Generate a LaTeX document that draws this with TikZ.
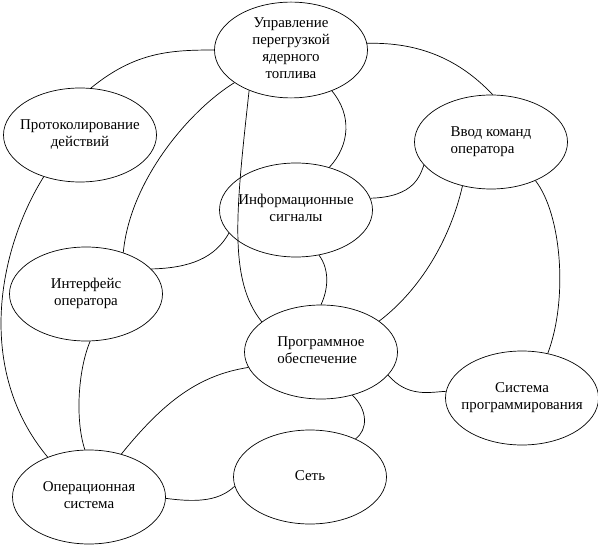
\documentclass[tikz,border=0pt]{standalone}
\usepackage{fontspec}
\setmainfont{Liberation Serif}
\usetikzlibrary{shapes.geometric}
\newcommand{\lbl}[1]{\makebox[0pt]{\begin{tabular}{@{}c@{}}#1\end{tabular}}}
\newcommand{\lbll}[1]{\makebox[0pt]{\begin{tabular}{@{}l@{}}#1\end{tabular}}}

\begin{document}
\begin{tikzpicture}[x=1bp,y=-1bp,
	blob/.style={ellipse,draw,line width=0.7pt,minimum width=153bp,minimum height=94bp,inner sep=0pt,font=\fontsize{15}{17}\selectfont},
	link/.style={line width=0.7pt}]
					\useasboundingbox (0,0) rectangle (598,545);
					%NODES
					\node[blob,minimum height=90bp] (ctrl) at (291,50) {\lbl{Управление\\перегрузкой\\ядерного\\топлива}};
					\node[blob] (log) at (80,135) {\lbl{Протоколирование\\действий}};
					\node[blob] (cmd) at (491,142) {\lbll{Ввод команд\\оператора}};
					\node[blob] (info) at (296,210) {\lbl{Информационные\\сигналы}};
					\node[blob] (iface) at (86,294) {\lbl{Интерфейс\\оператора}};
					\node[blob] (soft) at (321,352) {\lbll{Программное\\обеспечение}};
					\node[blob] (prog) at (522,398) {\lbl{Система\\программирования}};
					\node[blob] (net) at (310,477) {\lbl{Сеть}};
					\node[blob] (os) at (89,497) {\lbl{Операционная\\система}};
					%LINKS
					\draw[link] (ctrl.180) .. controls (170,50) and (135,52) .. (log.77);
					\draw[link] (ctrl.210) .. controls (190,110) and (130,180) .. (iface.48);
					\draw[link] (ctrl.224) .. controls (236,210) and (228,280) .. (soft.153);
					\draw[link] (ctrl.315) .. controls (352,115) and (350,145) .. (info.52);
					\draw[link] (ctrl.5) .. controls (420,42) and (460,60) .. (cmd.88);
					\draw[link] (info.9) .. controls (415,197) and (420,175) .. (cmd.199);
					\draw[link] (cmd.237) .. controls (450,240) and (420,290) .. (soft.28);
					\draw[link] (cmd.319) .. controls (562,215) and (568,300) .. (prog.60);
					\draw[link] (info.297) .. controls (330,270) and (328,290) .. (soft.90);
					\draw[link] (info.199) .. controls (215,258) and (190,268) .. (iface.21);
					\draw[link] (log.229) .. controls (-2,250) and (-25,370) .. (os.136);
					\draw[link] (iface.275) .. controls (78,370) and (75,420) .. (os.95);
					\draw[link] (soft.192) .. controls (200,375) and (165,400) .. (os.53);
					\draw[link] (soft.306) .. controls (368,410) and (368,430) .. (net.40);
					\draw[link] (soft.341) .. controls (408,398) and (430,392) .. (prog.175);
					\draw[link] (os.359) .. controls (200,503) and (220,500) .. (net.187);
	  \end{tikzpicture}
\end{document}
